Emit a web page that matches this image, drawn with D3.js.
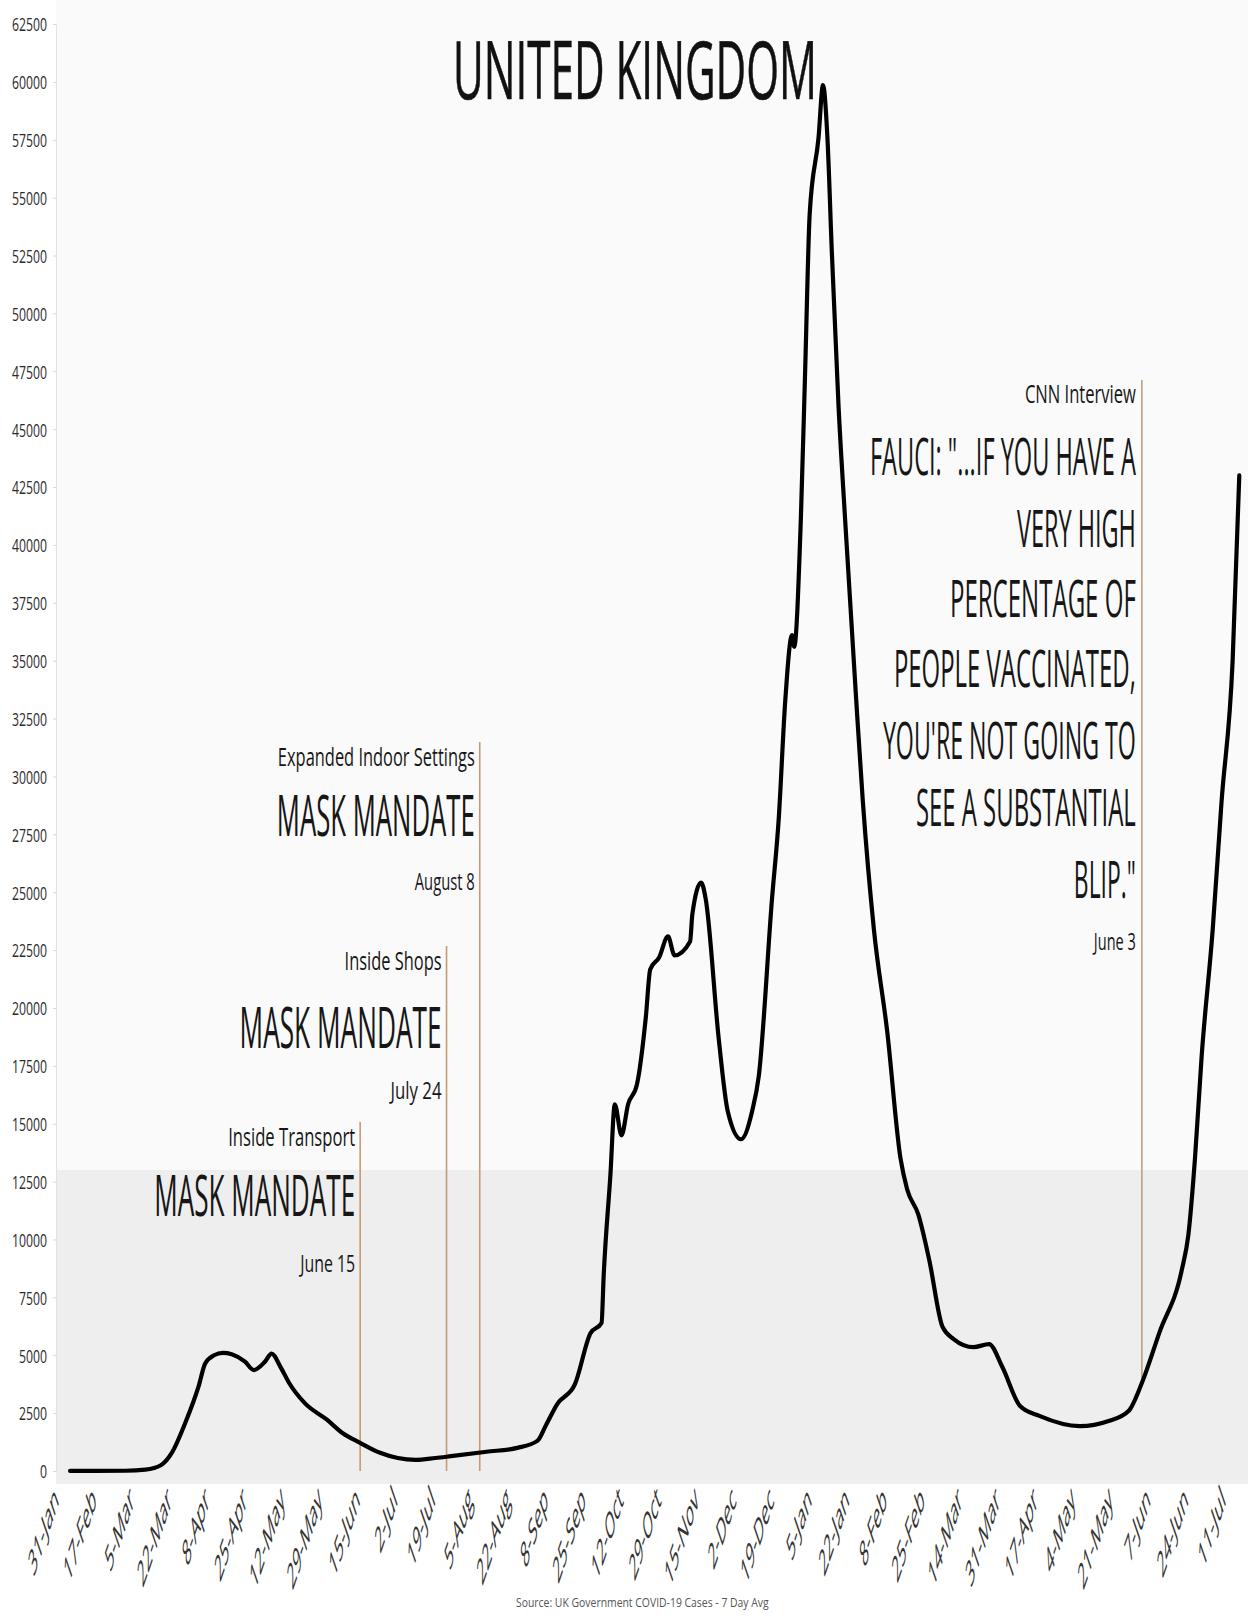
<!DOCTYPE html>
<html><head><meta charset="utf-8">
<script src="https://cdn.jsdelivr.net/npm/d3@7"></script>
<style>body{margin:0;background:#fff}svg{display:block}</style>
</head><body>
<svg id="c" width="1248" height="1619"></svg>
<script>
// ---------------- DATA ----------------
const title = "UNITED KINGDOM";
const sourceText = "Source: UK Government COVID-19 Cases - 7 Day Avg";

const dates = ["2020-02-05","2020-03-01","2020-03-10","2020-03-17","2020-03-22","2020-03-28","2020-04-03","2020-04-06","2020-04-10","2020-04-14","2020-04-18","2020-04-24","2020-04-28","2020-05-03","2020-05-06","2020-05-10","2020-05-14","2020-05-21","2020-05-31","2020-06-07","2020-06-15","2020-06-24","2020-07-02","2020-07-10","2020-07-19","2020-07-26","2020-08-11","2020-08-25","2020-09-03","2020-09-07","2020-09-12","2020-09-20","2020-09-27","2020-10-02","2020-10-03","2020-10-06","2020-10-08","2020-10-11","2020-10-14","2020-10-18","2020-10-22","2020-10-24","2020-10-28","2020-11-01","2020-11-04","2020-11-11","2020-11-12","2020-11-16","2020-11-18","2020-11-24","2020-11-28","2020-12-04","2020-12-09","2020-12-12","2020-12-18","2020-12-21","2020-12-24","2020-12-27","2020-12-28","2020-12-31","2021-01-02","2021-01-04","2021-01-08","2021-01-10","2021-01-12","2021-01-14","2021-01-17","2021-01-20","2021-01-25","2021-01-28","2021-02-02","2021-02-08","2021-02-14","2021-02-17","2021-02-22","2021-02-27","2021-03-05","2021-03-10","2021-03-19","2021-03-26","2021-04-01","2021-04-09","2021-04-18","2021-05-06","2021-05-19","2021-05-28","2021-06-03","2021-06-11","2021-06-21","2021-06-24","2021-06-27","2021-06-30","2021-07-05","2021-07-09","2021-07-14","2021-07-17"];
const cases = [2,10,60,250,790,2070,3640,4640,5000,5100,5040,4720,4360,4720,5070,4500,3790,2930,2215,1640,1215,786,560,480,560,640,830,1000,1300,2000,2890,3750,5950,6390,8500,12780,15840,14500,15840,16700,19600,21670,22180,23090,22270,22870,24040,25420,24730,18600,15540,14330,15540,17050,24730,28140,33320,36100,35600,41100,47700,54300,57600,59860,57600,52650,46050,41090,33320,28920,23390,18990,13510,12170,11090,9110,6220,5700,5350,5480,4490,2810,2370,1940,2160,2590,3800,6000,8670,10190,13510,17910,23390,28920,35000,43000];

const xTickDates = ["2020-01-31","2020-02-17","2020-03-05","2020-03-22","2020-04-08","2020-04-25","2020-05-12","2020-05-29","2020-06-15","2020-07-02","2020-07-19","2020-08-05","2020-08-22","2020-09-08","2020-09-25","2020-10-12","2020-10-29","2020-11-15","2020-12-02","2020-12-19","2021-01-05","2021-01-22","2021-02-08","2021-02-25","2021-03-14","2021-03-31","2021-04-17","2021-05-04","2021-05-21","2021-06-07","2021-06-24","2021-07-11"];
const xTickLabels = ["31-Jan","17-Feb","5-Mar","22-Mar","8-Apr","25-Apr","12-May","29-May","15-Jun","2-Jul","19-Jul","5-Aug","22-Aug","8-Sep","25-Sep","12-Oct","29-Oct","15-Nov","2-Dec","19-Dec","5-Jan","22-Jan","8-Feb","25-Feb","14-Mar","31-Mar","17-Apr","4-May","21-May","7-Jun","24-Jun","11-Jul"];
const yTicks = [0,2500,5000,7500,10000,12500,15000,17500,20000,22500,25000,27500,30000,32500,35000,37500,40000,42500,45000,47500,50000,52500,55000,57500,60000,62500];

const mandateDates = ["2020-06-15","2020-07-24","2020-08-08"];
const mandateKinds = ["Inside Transport","Inside Shops","Expanded Indoor Settings"];
const mandateHeadline = "MASK MANDATE";
const mandateDateTexts = ["June 15","July 24","August 8"];

const fauciDate = "2021-06-03";
const fauciKicker = "CNN Interview";
const fauciLines = ["FAUCI: \"...IF YOU HAVE A","VERY HIGH","PERCENTAGE OF","PEOPLE VACCINATED,","YOU'RE NOT GOING TO","SEE A SUBSTANTIAL","BLIP.\""];
const fauciDateText = "June 3";

// ---------------- DRAW ----------------
const parse = d3.utcParse("%Y-%m-%d");
const svg = d3.select("#c");
const FONT = "'Open Sans', 'DejaVu Sans', sans-serif";

const x = d3.scaleUtc().domain([parse("2020-01-31"), parse("2021-07-11")]).range([59, 1226]);
const y = d3.scaleLinear().domain([0, 62500]).range([1471, 24]);

// squeeze a text horizontally to a target width, anchored at its right (or left) edge
function fitText(parent, str, px, py, size, targetW, anchor) {
  const t = parent.append("text").text(str)
    .attr("font-family",FONT).attr("font-size",size)
    .attr("text-anchor",anchor || "end").attr("x",0).attr("y",0);
  const w = t.node().getComputedTextLength() || targetW;
  t.attr("transform",`translate(${px},${py}) scale(${targetW / w},1)`);
  return t;
}

// background
svg.append("rect").attr("x",0).attr("y",0).attr("width",1248).attr("height",1619).attr("fill","#ffffff");
svg.append("rect").attr("x",56).attr("y",0).attr("width",1192).attr("height",1170).attr("fill","#fafafa");
svg.append("rect").attr("x",56).attr("y",1170).attr("width",1192).attr("height",314).attr("fill","#eeeeee");

// y axis
const yAxis = svg.append("g").attr("transform","translate(56,0)")
  .call(d3.axisLeft(y).tickValues(yTicks).tickSize(3).tickPadding(6).tickFormat(d3.format("d")));
yAxis.select(".domain").attr("stroke","#e2e2e2");
yAxis.selectAll(".tick line").attr("stroke","#d8d8d8");
yAxis.selectAll(".tick text")
  .attr("font-family",FONT).attr("font-size",19).attr("fill","#2a2a2a")
  .attr("dy","0.36em")
  .attr("textLength", d => String(d).length * 7)
  .attr("lengthAdjust","spacingAndGlyphs");

// x axis
const xAxis = svg.append("g").attr("transform","translate(0,1502)")
  .call(d3.axisBottom(x).tickValues(xTickDates.map(parse)).tickSize(0)
    .tickFormat((d,i) => xTickLabels[i]));
xAxis.select(".domain").remove();
xAxis.selectAll(".tick text")
  .attr("font-family",FONT).attr("font-size",37).attr("fill","#333")
  .attr("x",0).attr("y",0).attr("dy",0)
  .attr("text-anchor","end")
  .attr("transform","scale(0.34,1) rotate(-45)");

// title
fitText(svg, title, 453, 99, 80, 364, "start")
  .attr("fill","#111").attr("stroke","#111").attr("stroke-width",0.6);

// mask mandate annotations
const lineColor = "#c99a72";
const mandateLayout = [
  {top:1122, kind:1146, head:1216, date:1272, kindW:127, headW:201, dateW:55},
  {top:946,  kind:970,  head:1048, date:1099, kindW:97,  headW:202, dateW:51},
  {top:742,  kind:766,  head:836,  date:890,  kindW:197, headW:198, dateW:60}
];
mandateDates.forEach((ds,i) => {
  const L = mandateLayout[i];
  const xx = x(parse(ds));
  svg.append("line").attr("x1",xx).attr("x2",xx).attr("y1",L.top).attr("y2",y(0))
    .attr("stroke",lineColor).attr("stroke-width",1.6);
  const g = svg.append("g").attr("fill","#161616");
  fitText(g, mandateKinds[i], xx-5, L.kind, 25, L.kindW);
  fitText(g, mandateHeadline, xx-5, L.head, 57, L.headW);
  fitText(g, mandateDateTexts[i], xx-5, L.date, 23, L.dateW);
});

// Fauci annotation
const fx = x(parse(fauciDate));
const fauciIdx = dates.indexOf(fauciDate);
svg.append("line").attr("x1",fx).attr("x2",fx).attr("y1",380).attr("y2",y(cases[fauciIdx]))
  .attr("stroke","#b9a184").attr("stroke-width",1.6);
const fg = svg.append("g").attr("fill","#161616");
fitText(fg, fauciKicker, fx-6, 403, 25, 111);
const fauciW = [266,119,186,242,253,220,62];
const fauciY = [475,547,617,687,759,826,898];
fauciLines.forEach((t,i) => fitText(fg, t, fx-6, fauciY[i], 52, fauciW[i]));
fitText(fg, fauciDateText, fx-6, 950, 23, 42);

// data line
const series = dates.map((d,i) => ({date: parse(d), v: cases[i]}));
svg.append("path").datum(series)
  .attr("fill","none").attr("stroke","#000").attr("stroke-width",4.2)
  .attr("stroke-linejoin","round").attr("stroke-linecap","round")
  .attr("d", d3.line().x(d => x(d.date)).y(d => y(d.v)).curve(d3.curveMonotoneX));

// source
fitText(svg, sourceText, 516, 1607, 13, 253, "start").attr("fill","#555");
</script>
</body></html>
